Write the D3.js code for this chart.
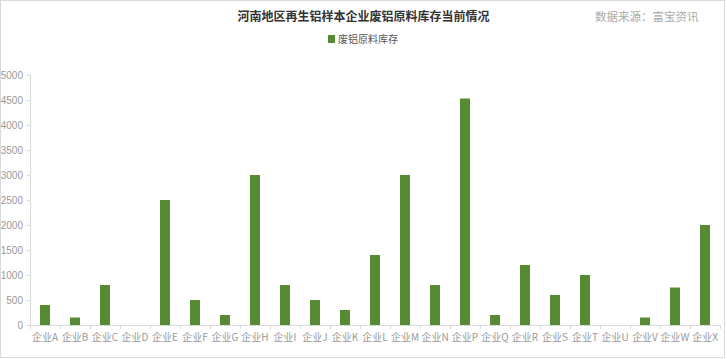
<!DOCTYPE html>
<html>
<head>
<meta charset="utf-8">
<script src="https://cdn.jsdelivr.net/npm/d3@7"></script>
<style>
  body { margin: 0; background: #fff; }
  svg text { font-family: "Liberation Sans", "Noto Sans CJK SC", sans-serif; }
</style>
</head>
<body>
<div id="chart"></div>
<script>
// data
var companies = ['企业A', '企业B', '企业C', '企业D', '企业E', '企业F', '企业G', '企业H', '企业I', '企业J', '企业K', '企业L',
    '企业M', '企业N', '企业P', '企业Q', '企业R', '企业S', '企业T', '企业U', '企业V', '企业W', '企业X'];
var stock = [400, 150, 800, 0, 2500, 500, 200, 3000, 800, 500, 300, 1400,
    3000, 800, 4530, 200, 1200, 600, 1000, 0, 150, 750, 2000];
var yTicks = [0, 500, 1000, 1500, 2000, 2500, 3000, 3500, 4000, 4500, 5000];
var seriesName = '废铝原料库存';
var titleText = '河南地区再生铝样本企业废铝原料库存当前情况';
var sourceText = '数据来源：富宝资讯';

var width = 727, height = 359;
var margin = {top: 75, right: 7, bottom: 34, left: 30};
var barColor = '#568b33';

var svg = d3.select('#chart').append('svg')
    .attr('width', width)
    .attr('height', height);

// outer frame
svg.append('rect')
    .attr('x', 0.5).attr('y', 0.5)
    .attr('width', 724).attr('height', 357)
    .attr('fill', 'none')
    .attr('stroke', '#d9d9d9');

// title + source
svg.append('text')
    .attr('x', width / 2).attr('y', 21)
    .attr('text-anchor', 'middle')
    .style('font-family', '"Noto Sans CJK SC", sans-serif')
    .style('font-size', '12px')
    .style('font-weight', 'bold')
    .attr('fill', '#333')
    .text(titleText);

svg.append('text')
    .attr('x', 595).attr('y', 21)
    .style('font-family', '"Noto Sans CJK SC", sans-serif')
    .style('font-size', '11.5px')
    .attr('fill', '#aaa')
    .text(sourceText);

// legend
var legend = svg.append('g').attr('transform', 'translate(328,35)');
legend.append('rect')
    .attr('width', 7).attr('height', 8)
    .attr('fill', barColor);
legend.append('text')
    .attr('x', 10).attr('y', 8)
    .style('font-family', '"Noto Sans CJK SC", sans-serif')
    .style('font-size', '10px')
    .attr('fill', '#555')
    .text(seriesName);

var innerW = width - margin.left - margin.right;   // 690
var innerH = height - margin.top - margin.bottom;  // 250

var x = d3.scaleBand()
    .domain(companies)
    .range([margin.left, margin.left + innerW])
    .paddingInner(0)
    .paddingOuter(0);

var y = d3.scaleLinear()
    .domain([0, 5000])
    .range([margin.top + innerH, margin.top]);

// y axis
var yAxis = svg.append('g')
    .attr('transform', 'translate(' + margin.left + ',0)')
    .call(d3.axisLeft(y).tickValues(yTicks).tickFormat(d3.format('d')).tickSize(3).tickPadding(4));
yAxis.select('.domain').attr('stroke', '#d9d9d9');
yAxis.selectAll('.tick line').attr('stroke', '#d9d9d9');
yAxis.selectAll('.tick text')
    .attr('fill', '#999')
    .style('font-size', '10px');

// x axis, ticks sit on category boundaries
var xAxis = svg.append('g')
    .attr('transform', 'translate(0,' + (margin.top + innerH) + ')')
    .call(d3.axisBottom(x).tickSize(0).tickPadding(9));
xAxis.select('.domain').attr('stroke', '#d9d9d9');
xAxis.selectAll('.tick text')
    .attr('fill', '#999')
    .style('font-family', '"Noto Sans CJK SC", sans-serif')
    .style('font-size', '10px');

xAxis.selectAll('.boundary')
    .data(companies.concat(['end']))
    .enter().append('line')
    .attr('class', 'boundary')
    .attr('x1', function (d, i) { return margin.left + i * x.step() + 0.5; })
    .attr('x2', function (d, i) { return margin.left + i * x.step() + 0.5; })
    .attr('y1', 0).attr('y2', 4)
    .attr('stroke', '#d9d9d9');

// bars
var barW = 10;
svg.append('g').selectAll('rect')
    .data(stock)
    .enter().append('rect')
    .attr('x', function (d, i) { return x(companies[i]) + (x.bandwidth() - barW) / 2; })
    .attr('y', function (d) { return y(d); })
    .attr('width', barW)
    .attr('height', function (d) { return y(0) - y(d); })
    .attr('fill', barColor);
</script>
</body>
</html>
